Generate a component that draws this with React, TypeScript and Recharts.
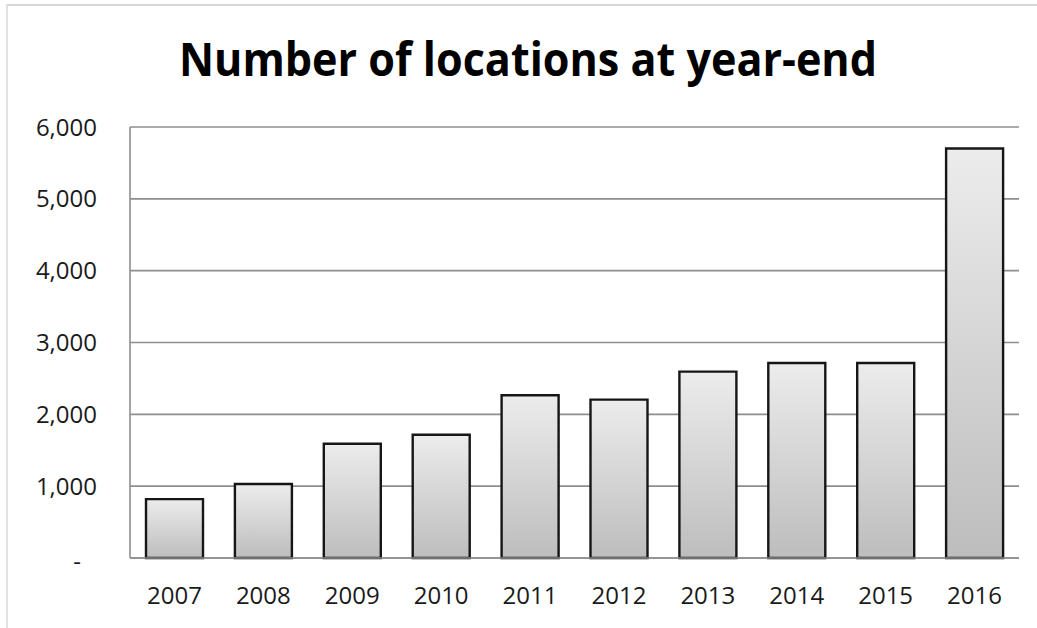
import { BarChart, Bar, XAxis, YAxis, CartesianGrid } from 'recharts'

const years = ['2007', '2008', '2009', '2010', '2011', '2012', '2013', '2014', '2015', '2016']
const locations = [820, 1030, 1590, 1715, 2265, 2205, 2595, 2715, 2715, 5700]
const yTicks = [0, 1000, 2000, 3000, 4000, 5000, 6000]

const TITLE = 'Number of locations at year-end'
const FONT = '"Open Sans", sans-serif'
const GRID = '#8e8e8e'

const data = years.map((year, i) => ({ year, value: locations[i] }))

function YTick(props: any) {
  const { x, y, payload } = props
  const v = payload.value as number
  if (v === 0) {
    return (
      <text x={x - 16} y={y + 3} textAnchor="end" dy="0.355em" fontSize={24} fontFamily={FONT} fill="#1a1a1a">
        -
      </text>
    )
  }
  return (
    <text x={x} y={y} textAnchor="end" dy="0.355em" fontSize={24} fontFamily={FONT} fill="#1a1a1a">
      {v.toLocaleString('en-US')}
    </text>
  )
}

export default function App() {
  return (
    <div style={{ position: 'absolute', left: 0, top: 0, width: 1037, height: 628, background: '#fff' }}>
      <div
        style={{
          position: 'absolute',
          left: 6,
          top: 4,
          width: 1040,
          height: 640,
          borderTop: '2px solid #d6d6d6',
          borderLeft: '2px solid #e2e2e2',
        }}
      />
      <svg width={1037} height={100} style={{ position: 'absolute', left: 0, top: 0 }}>
        <text
          x={179}
          y={76}
          textLength={698}
          lengthAdjust="spacingAndGlyphs"
          fontSize={46}
          fontWeight={700}
          fontFamily={FONT}
          fill="#000"
        >
          {TITLE}
        </text>
      </svg>
      <div style={{ position: 'absolute', left: 0, top: 0 }}>
        <BarChart
          width={1037}
          height={628}
          data={data}
          margin={{ top: 127, right: 18, bottom: 30, left: 0 }}
          barCategoryGap="18%"
        >
          <defs>
            <linearGradient id="barFill" x1="0" y1="0" x2="0" y2="1">
              <stop offset="0%" stopColor="#ececec" />
              <stop offset="100%" stopColor="#bdbdbd" />
            </linearGradient>
          </defs>
          <CartesianGrid vertical={false} stroke={GRID} strokeWidth={1.6} />
          <XAxis
            dataKey="year"
            height={40}
            tickLine={false}
            tickSize={0}
            tickMargin={29}
            axisLine={{ stroke: GRID, strokeWidth: 1.6 }}
            tick={{ fontSize: 24, fontFamily: FONT, fill: '#1a1a1a' }}
          />
          <YAxis
            width={130}
            domain={[0, 6000]}
            ticks={yTicks}
            interval={0}
            tickLine={false}
            tickSize={0}
            tickMargin={33}
            axisLine={{ stroke: GRID, strokeWidth: 1.6 }}
            tick={<YTick />}
          />
          <Bar
            dataKey="value"
            fill="url(#barFill)"
            stroke="#161616"
            strokeWidth={2.4}
            isAnimationActive={false}
          />
        </BarChart>
      </div>
    </div>
  )
}
